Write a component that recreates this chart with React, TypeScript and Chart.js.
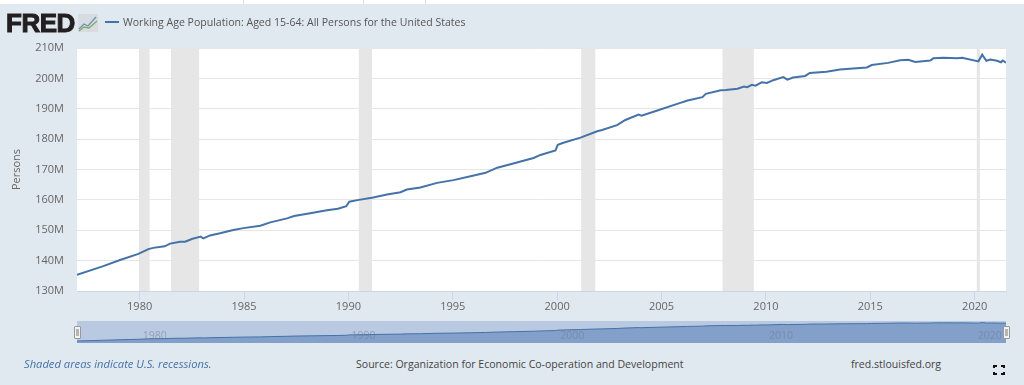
import React, { useEffect, useRef } from "react";
import { Chart, registerables } from "chart.js";

Chart.register(...registerables);

const years = [
  1977.0, 1978.26, 1979.06, 1979.94, 1980.42, 1980.65, 1981.2, 1981.46, 1981.94, 1982.18, 1982.5, 1982.93,
  1983.05, 1983.37, 1983.85, 1984.49, 1984.97, 1985.78, 1986.26, 1987.06, 1987.4, 1988.17, 1988.97, 1989.5,
  1989.9, 1990.04, 1990.5, 1991.13, 1991.85, 1992.5, 1992.8, 1993.45, 1994.25, 1995.03, 1995.85, 1996.57,
  1997.13, 1997.9, 1998.87, 1999.2, 1999.92, 2000.03, 2000.3, 2001.12, 2001.92, 2002.15, 2002.87, 2003.27,
  2003.9, 2004.04, 2004.8, 2005.75, 2006.25, 2006.96, 2007.12, 2007.84, 2008.08, 2008.64, 2008.95, 2009.1,
  2009.33, 2009.5, 2009.8, 2010.05, 2010.35, 2010.83, 2011.03, 2011.3, 2011.88, 2012.1, 2012.9, 2013.55,
  2014.83, 2015.07, 2015.85, 2016.43, 2016.82, 2017.15, 2017.87, 2018.02, 2018.5, 2019.16, 2019.4, 2020.18,
  2020.36, 2020.56, 2020.75, 2021.07, 2021.26, 2021.34, 2021.5,
];
const persons = [
  135.3, 138.2, 140.2, 142.2, 143.8, 144.2, 144.7, 145.6, 146.2, 146.2, 147.1, 147.9,
  147.3, 148.3, 149.0, 150.1, 150.7, 151.5, 152.6, 153.9, 154.7, 155.6, 156.6, 157.1,
  157.9, 159.4, 160.0, 160.7, 161.8, 162.5, 163.4, 164.1, 165.6, 166.5, 167.8, 168.9,
  170.6, 172.0, 173.8, 174.8, 176.3, 178.1, 178.8, 180.5, 182.6, 183.0, 184.6, 186.3,
  188.1, 187.7, 189.4, 191.6, 192.7, 193.8, 194.9, 196.1, 196.2, 196.6, 197.3, 197.1,
  197.9, 197.6, 198.7, 198.5, 199.4, 200.4, 199.6, 200.3, 200.8, 201.8, 202.2, 202.9,
  203.6, 204.4, 205.1, 206.0, 206.1, 205.4, 205.9, 206.6, 206.8, 206.6, 206.8, 205.6,
  207.8, 205.8, 206.2, 205.8, 205.3, 205.9, 205.2,
];
const recessionStarts = [1979.97, 1981.5, 1990.5, 2001.15, 2007.92, 2020.1];
const recessionEnds = [1980.48, 1982.85, 1991.13, 2001.83, 2009.42, 2020.25];
const navigatorYears = [1980, 1990, 2000, 2010, 2020];

const seriesName = "Working Age Population: Aged 15-64: All Persons for the United States";
const yTitle = "Persons";
const footLeft = "Shaded areas indicate U.S. recessions.";
const footMid = "Source: Organization for Economic Co-operation and Development";
const footRight = "fred.stlouisfed.org";

const X_MIN = 1977;
const X_MAX = 2021.5;
const FONT = '"Open Sans", sans-serif';
const BG = "#e1e9f0";
const LINE = "#4572a7";

const points = years.map((x, i) => ({ x, y: persons[i] }));

const mainPlugin = {
  id: "fredBands",
  beforeDatasetsDraw(chart: any) {
    const { ctx, chartArea: a, scales } = chart;
    ctx.save();
    ctx.fillStyle = "#e6e6e6";
    recessionStarts.forEach((s, i) => {
      const x0 = scales.x.getPixelForValue(s);
      const x1 = scales.x.getPixelForValue(recessionEnds[i]);
      ctx.fillRect(x0, a.top, x1 - x0, a.bottom - a.top);
    });
    ctx.restore();
  },
  beforeDraw(chart: any) {
    const { ctx, chartArea: a } = chart;
    ctx.save();
    ctx.fillStyle = "#ffffff";
    ctx.fillRect(a.left, a.top, a.right - a.left, a.bottom - a.top);
    ctx.restore();
  },
};

const navPlugin = {
  id: "navDecor",
  beforeDraw(chart: any) {
    const { ctx, chartArea: a } = chart;
    ctx.save();
    ctx.fillStyle = "#b9c9e2";
    ctx.fillRect(a.left, a.top, a.right - a.left, a.bottom - a.top);
    ctx.restore();
  },
  afterDatasetsDraw(chart: any) {
    const { ctx, scales, chartArea: a } = chart;
    ctx.save();
    ctx.font = `10.5px ${FONT}`;
    ctx.textAlign = "left";
    ctx.textBaseline = "middle";
    ctx.fillStyle = "rgba(110,120,140,0.5)";
    navigatorYears.forEach((y) => {
      ctx.fillText(String(y), scales.x.getPixelForValue(y) + 3, a.top + 15);
    });
    ctx.restore();
  },
};

function Handle({ left }: { left: number }) {
  return (
    <div style={{ position: "absolute", left, top: 326, width: 7, height: 13, boxSizing: "border-box", background: "#f2f2f2", border: "1px solid #999", borderRadius: 1 }}>
      <div style={{ position: "absolute", left: 1, top: 2, width: 3, height: 7, background: "#b5b5b5" }} />
    </div>
  );
}

function Corner({ left, top, bl, bt }: { left: number; top: number; bl: boolean; bt: boolean }) {
  const side = "2px solid #111";
  return (
    <div style={{ position: "absolute", left, top, width: 2, height: 1, borderLeft: bl ? side : undefined, borderRight: bl ? undefined : side, borderTop: bt ? side : undefined, borderBottom: bt ? undefined : side }} />
  );
}

const textStyle = (left: number, top: number, extra: any = {}) => ({
  position: "absolute" as const,
  left,
  top,
  whiteSpace: "nowrap" as const,
  fontFamily: FONT,
  lineHeight: "16px",
  ...extra,
});

export default function App() {
  const mainRef = useRef<HTMLCanvasElement>(null);
  const navRef = useRef<HTMLCanvasElement>(null);

  useEffect(() => {
    const main = new Chart(mainRef.current as any, {
      type: "line",
      data: {
        datasets: [
          { data: points, borderColor: LINE, borderWidth: 2, pointRadius: 0, tension: 0, fill: false },
        ],
      },
      plugins: [mainPlugin],
      options: {
        animation: false,
        responsive: false,
        parsing: { xAxisKey: "x", yAxisKey: "y" },
        layout: { padding: { left: 0, right: 18, top: 48, bottom: 0 } },
        plugins: { legend: { display: false }, tooltip: { enabled: false } },
        scales: {
          x: {
            type: "linear",
            min: X_MIN,
            max: X_MAX,
            afterFit: (s: any) => { s.height = 29; },
            border: { display: true, color: "#ccd6eb", width: 1 },
            grid: { drawOnChartArea: false, drawTicks: true, tickLength: 9, color: "#ccd6eb" },
            ticks: {
              stepSize: 5,
              includeBounds: false,
              maxRotation: 0,
              padding: 0,
              color: "#666666",
              font: { family: FONT, size: 11 },
              callback: (v: any) => String(v),
            },
          },
          y: {
            min: 130,
            max: 210,
            afterFit: (s: any) => { s.width = 77; },
            border: { display: false },
            grid: { color: "#e6e6e6", drawTicks: false, lineWidth: 1 },
            title: { display: true, text: yTitle, color: "#666666", font: { family: FONT, size: 11 }, padding: { top: 10, bottom: 0 } },
            ticks: {
              stepSize: 10,
              padding: 13,
              color: "#666666",
              font: { family: FONT, size: 11 },
              callback: (v: any) => `${v}M`,
            },
          },
        },
      },
    } as any);

    const nav = new Chart(navRef.current as any, {
      type: "line",
      data: {
        datasets: [
          { data: points, borderColor: LINE, borderWidth: 1, pointRadius: 0, tension: 0, fill: "start", backgroundColor: "#82a0c9" },
        ],
      },
      plugins: [navPlugin],
      options: {
        animation: false,
        responsive: false,
        parsing: { xAxisKey: "x", yAxisKey: "y" },
        layout: { padding: 0 },
        plugins: { legend: { display: false }, tooltip: { enabled: false } },
        scales: {
          x: { type: "linear", display: false, min: X_MIN, max: X_MAX },
          y: { display: false, min: 127.5, max: 214 },
        },
      },
    } as any);

    return () => {
      main.destroy();
      nav.destroy();
    };
  }, []);

  return (
    <div style={{ position: "absolute", left: 0, top: 0, width: 1024, height: 385, overflow: "hidden", background: "#fff" }}>
      <div style={{ position: "absolute", left: 243, top: 0, width: 1, height: 4, background: "#ddd" }} />
      <div style={{ position: "absolute", left: 363, top: 0, width: 1, height: 4, background: "#ddd" }} />
      <div style={{ position: "absolute", left: 425, top: 0, width: 1, height: 4, background: "#ddd" }} />
      <div style={{ position: "absolute", left: 0, top: 4, width: 1024, height: 381, background: BG }} />

      <canvas ref={mainRef} width={1024} height={320} style={{ position: "absolute", left: 0, top: 0, width: 1024, height: 320 }} />
      <canvas ref={navRef} width={929} height={22} style={{ position: "absolute", left: 77, top: 321, width: 929, height: 22 }} />
      <Handle left={74} />
      <Handle left={1003} />

      <div style={textStyle(6, 9, { fontFamily: '"Liberation Sans", sans-serif', fontWeight: 700, fontSize: 26, lineHeight: "28px", color: "#231f20", letterSpacing: -0.5, WebkitTextStroke: "1px #231f20" })}>FRED</div>
      <svg style={{ position: "absolute", left: 78, top: 14 }} width={20} height={18}>
        <rect x={0} y={0} width={20} height={18} fill="#d6dce0" />
        <polyline points="1,15 6,10 10,12 18,3" fill="none" stroke="#6f93b8" strokeWidth={1.3} />
        <polyline points="1,17 6,13 11,14 19,7" fill="none" stroke="#86a96b" strokeWidth={1.3} />
      </svg>
      <div style={{ position: "absolute", left: 105, top: 21, width: 14, height: 2, background: LINE }} />
      <div style={textStyle(123, 14, { fontSize: 10.55, color: "#555555" })}>{seriesName}</div>

      <div style={textStyle(24, 356, { fontSize: 11.2, fontStyle: "italic", color: "#4572a7" })}>{footLeft}</div>
      <div style={textStyle(356, 356, { fontSize: 10.55, color: "#444444" })}>{footMid}</div>
      <div style={textStyle(851, 356, { fontSize: 10.55, color: "#444444" })}>{footRight}</div>

      <Corner left={993} top={365} bl bt />
      <Corner left={1001} top={365} bl={false} bt />
      <Corner left={993} top={372} bl bt={false} />
      <Corner left={1001} top={372} bl={false} bt={false} />
    </div>
  );
}
